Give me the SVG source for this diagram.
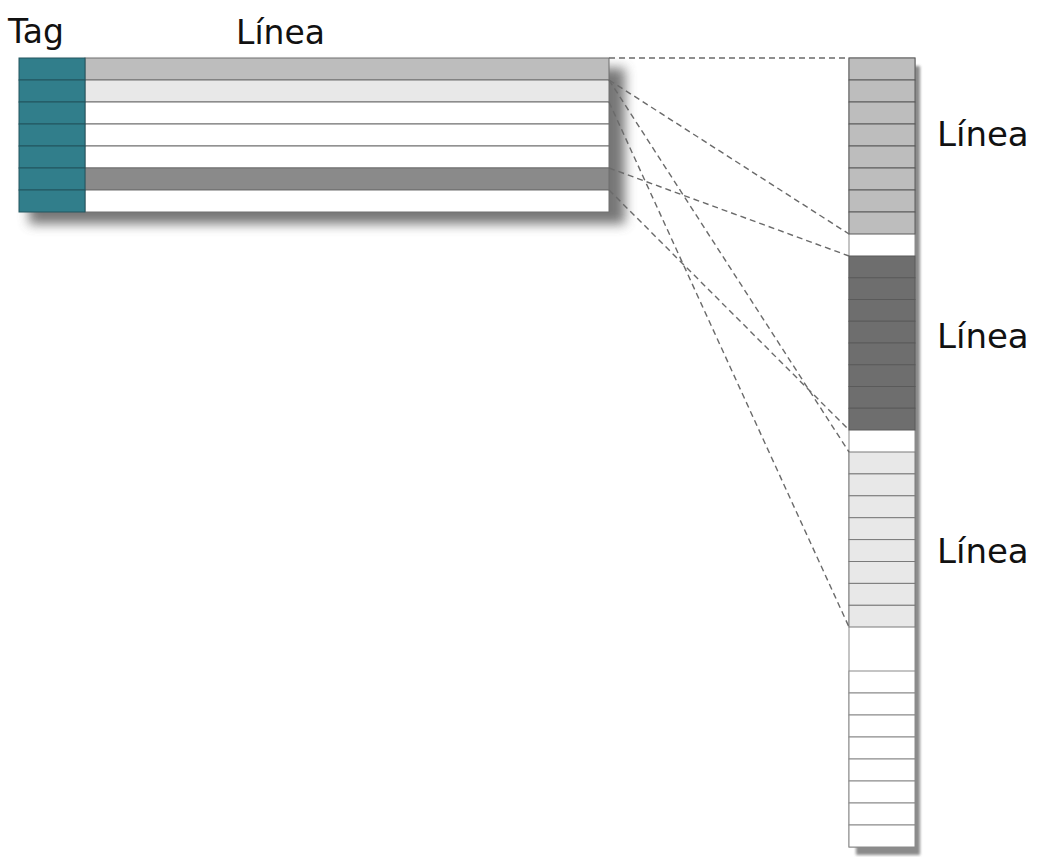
<svg xmlns="http://www.w3.org/2000/svg" width="1042" height="857" viewBox="0 0 1042 857">
<style>
.lbl{font-family:"DejaVu Sans","Liberation Sans",sans-serif;font-size:33px;fill:#111}
.side{font-size:34px}
.tag{fill:#317e8b;stroke:#22555e;stroke-width:1}
.row{stroke:#6f6f6f;stroke-width:1}
.cell{stroke:#5a5a5a;stroke-width:1}
.dash{fill:none;stroke:#6a6a6a;stroke-width:1.4;stroke-dasharray:6 4}
</style>
<defs>
<filter id="sh" x="-20%" y="-20%" width="140%" height="140%"><feGaussianBlur stdDeviation="6"/></filter>
<filter id="sh2" x="-50%" y="-5%" width="200%" height="110%"><feGaussianBlur stdDeviation="1.5"/></filter>
</defs>
<g id="shadows">
<rect x="29" y="68" width="596" height="156" fill="#555" opacity="0.8" filter="url(#sh)"/>
<rect x="856" y="66" width="64" height="789" fill="#777" opacity="0.85" filter="url(#sh2)"/>
</g>
<g id="cache">
<rect x="85" y="58" width="524" height="22" fill="#bdbdbd" class="row"/>
<rect x="85" y="80" width="524" height="22" fill="#e8e8e8" class="row"/>
<rect x="85" y="102" width="524" height="22" fill="#fff" class="row"/>
<rect x="85" y="124" width="524" height="22" fill="#fff" class="row"/>
<rect x="85" y="146" width="524" height="22" fill="#fff" class="row"/>
<rect x="85" y="168" width="524" height="22" fill="#8a8a8a" class="row"/>
<rect x="85" y="190" width="524" height="22" fill="#fff" class="row"/>
<rect x="19" y="58" width="66" height="22" class="tag"/>
<rect x="19" y="80" width="66" height="22" class="tag"/>
<rect x="19" y="102" width="66" height="22" class="tag"/>
<rect x="19" y="124" width="66" height="22" class="tag"/>
<rect x="19" y="146" width="66" height="22" class="tag"/>
<rect x="19" y="168" width="66" height="22" class="tag"/>
<rect x="19" y="190" width="66" height="22" class="tag"/>
</g>
<g id="memory">
<rect x="849" y="58" width="66" height="789" fill="#fff" stroke="#8a8a8a" stroke-width="1"/>
<g fill="#bdbdbd" class="cell">
<rect x="849" y="58" width="66" height="22"/><rect x="849" y="80" width="66" height="22"/><rect x="849" y="102" width="66" height="22"/><rect x="849" y="124" width="66" height="22"/><rect x="849" y="146" width="66" height="22"/><rect x="849" y="168" width="66" height="22"/><rect x="849" y="190" width="66" height="22"/><rect x="849" y="212" width="66" height="22"/>
</g>
<g fill="#6e6e6e" class="cell">
<rect x="849" y="256" width="66" height="21.75"/><rect x="849" y="277.75" width="66" height="21.75"/><rect x="849" y="299.5" width="66" height="21.75"/><rect x="849" y="321.25" width="66" height="21.75"/><rect x="849" y="343" width="66" height="21.75"/><rect x="849" y="364.75" width="66" height="21.75"/><rect x="849" y="386.5" width="66" height="21.75"/><rect x="849" y="408.25" width="66" height="21.75"/>
</g>
<g fill="#e8e8e8" stroke="#7a7a7a" stroke-width="1">
<rect x="849" y="452" width="66" height="21.9"/><rect x="849" y="473.9" width="66" height="21.9"/><rect x="849" y="495.8" width="66" height="21.9"/><rect x="849" y="517.7" width="66" height="21.9"/><rect x="849" y="539.6" width="66" height="21.9"/><rect x="849" y="561.5" width="66" height="21.9"/><rect x="849" y="583.4" width="66" height="21.9"/><rect x="849" y="605.3" width="66" height="21.7"/>
</g>
<g fill="#fff" stroke="#8a8a8a" stroke-width="1">
<rect x="849" y="671" width="66" height="22"/><rect x="849" y="693" width="66" height="22"/><rect x="849" y="715" width="66" height="22"/><rect x="849" y="737" width="66" height="22"/><rect x="849" y="759" width="66" height="22"/><rect x="849" y="781" width="66" height="22"/><rect x="849" y="803" width="66" height="22"/><rect x="849" y="825" width="66" height="22"/>
</g>
</g>
<g id="connectors">
<line class="dash" x1="609" y1="58" x2="849" y2="58"/>
<line class="dash" x1="609" y1="80" x2="849" y2="234"/>
<line class="dash" x1="609" y1="80" x2="849" y2="452"/>
<line class="dash" x1="609" y1="102" x2="849" y2="627"/>
<line class="dash" x1="609" y1="168" x2="849" y2="256"/>
<line class="dash" x1="609" y1="190" x2="849" y2="430"/>
</g>
<g id="labels">
<text class="lbl" x="8" y="43">Tag</text>
<text class="lbl" x="236" y="44">Línea</text>
<text class="lbl side" x="937" y="146">Línea</text>
<text class="lbl side" x="937" y="348">Línea</text>
<text class="lbl side" x="937" y="563">Línea</text>
</g>
</svg>
